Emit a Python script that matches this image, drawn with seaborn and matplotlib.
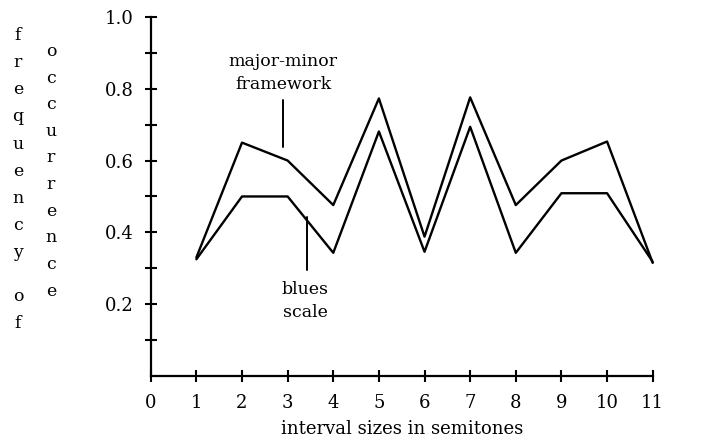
import matplotlib
matplotlib.use("Agg")
import matplotlib.pyplot as plt
import seaborn as sns
import pandas as pd
import numpy as np

intervals = [1, 2, 3, 4, 5, 6, 7, 8, 9, 10, 11]
major_minor = [0.33, 0.65, 0.60, 0.476, 0.773, 0.388, 0.776, 0.476, 0.60, 0.653, 0.315]
blues = [0.325, 0.50, 0.50, 0.343, 0.681, 0.346, 0.694, 0.343, 0.509, 0.509, 0.318]

df = pd.DataFrame({"interval": intervals * 2,
                   "freq": major_minor + blues,
                   "scale": ["major-minor"] * len(intervals) + ["blues"] * len(intervals)})

sns.set_style("white")
plt.rcParams["font.family"] = ["DejaVu Serif"]
plt.rcParams["font.size"] = 13
plt.rcParams["text.color"] = "black"
plt.rcParams["axes.labelcolor"] = "black"
plt.rcParams["xtick.color"] = "black"
plt.rcParams["ytick.color"] = "black"

fig = plt.figure(figsize=(7.06, 4.46), dpi=100)
ax = fig.add_axes([0.2135, 0.157, 0.711, 0.805])

sns.lineplot(data=df, x="interval", y="freq", hue="scale", palette=["black", "black"],
             legend=False, lw=1.7, ax=ax, clip_on=False)

ax.set_xlim(0, 11)
ax.set_ylim(0, 1.0)
ax.set_xticks(range(0, 12))
ax.set_yticks([0.2, 0.4, 0.6, 0.8, 1.0])
ax.set_yticks([0.1, 0.3, 0.5, 0.7, 0.9], minor=True)
ax.set_yticklabels(["0.2", "0.4", "0.6", "0.8", "1.0"])
ax.tick_params(axis="both", which="both", direction="inout", length=8, width=1.5,
               color="black", labelsize=13, bottom=True, left=True)
ax.tick_params(axis="y", pad=8)
ax.tick_params(axis="x", pad=9)
for s in ["top", "right"]:
    ax.spines[s].set_visible(False)
for s in ["left", "bottom"]:
    ax.spines[s].set_linewidth(1.6)
    ax.spines[s].set_color("black")

ax.set_xlabel("interval sizes in semitones", fontsize=13, labelpad=6)
ax.set_ylabel("")

# pointers and labels
ax.text(2.9, 0.843, "major-minor\nframework", ha="center", va="center", fontsize=12.5,
        linespacing=1.45)
ax.plot([2.89, 2.89], [0.639, 0.769], color="black", lw=1.4)
ax.text(3.38, 0.21, "blues\nscale", ha="center", va="center", fontsize=12.5,
        linespacing=1.45)
ax.plot([3.42, 3.42], [0.295, 0.444], color="black", lw=1.4)

# vertical y label, two columns of letters
fig.text(18 / 706, 1 - 27 / 446, "\n".join("frequency"), ha="center", va="top",
         fontsize=12.5, linespacing=1.78)
fig.text(18 / 706, 1 - 288 / 446, "o\nf", ha="center", va="top",
         fontsize=12.5, linespacing=1.78)
fig.text(51 / 706, 1 - 43 / 446, "\n".join("occurrence"), ha="center", va="top",
         fontsize=12.5, linespacing=1.74)

fig.savefig("out.png", dpi=100)
